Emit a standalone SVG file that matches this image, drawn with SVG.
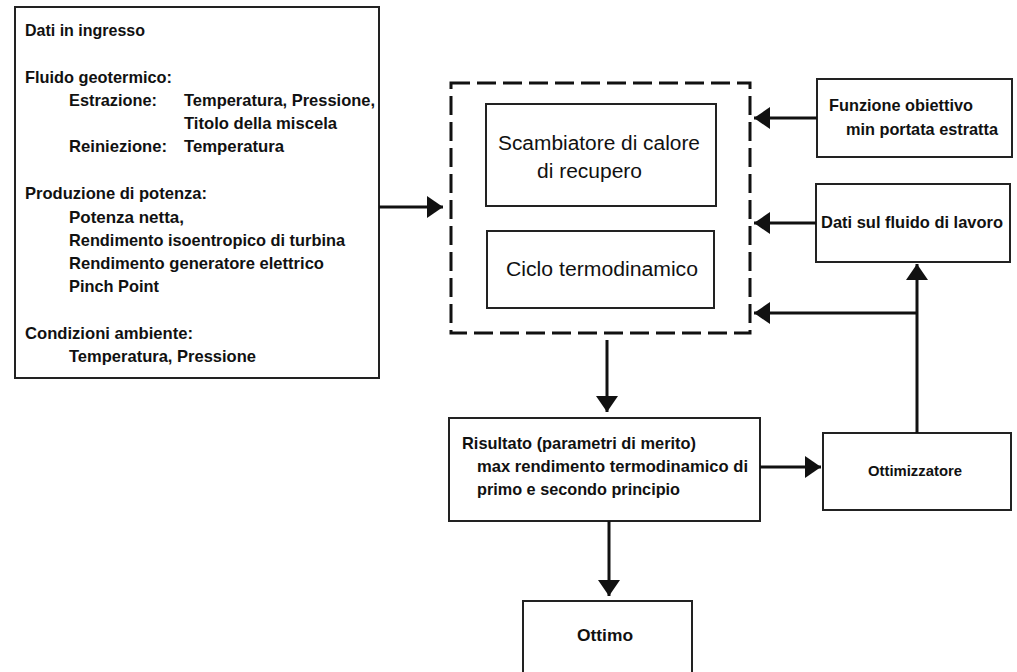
<svg xmlns="http://www.w3.org/2000/svg" width="1017" height="672" viewBox="0 0 1017 672">
<style>
.box{fill:#fff;stroke:#222;stroke-width:2}
.dash{fill:none;stroke:#111;stroke-width:3;stroke-dasharray:19 7}
.t{font-family:"Liberation Sans Narrow","Liberation Sans",Arial,sans-serif;font-weight:bold;font-size:17px;fill:#111}
.r{font-family:"Liberation Sans",Arial,sans-serif;font-size:20px;fill:#111}
.c{fill:none;stroke:#111;stroke-width:3}
</style>
<defs>
<marker id="ah" viewBox="0 0 16 22" refX="16" refY="11" markerWidth="16" markerHeight="22" markerUnits="userSpaceOnUse" orient="auto">
<path d="M0,0 L16,11 L0,22 Z" fill="#111"/>
</marker>
</defs>
<rect width="1017" height="672" fill="#fff"/>

<g id="input">
<rect class="box" x="15" y="7" width="364" height="371"/>
<text class="t" x="25" y="36" textLength="120" lengthAdjust="spacingAndGlyphs">Dati in ingresso</text>
<text class="t" x="25" y="83" textLength="147" lengthAdjust="spacingAndGlyphs">Fluido geotermico:</text>
<text class="t" x="69" y="106" textLength="88" lengthAdjust="spacingAndGlyphs">Estrazione:</text>
<text class="t" x="184" y="106" textLength="191" lengthAdjust="spacingAndGlyphs">Temperatura, Pressione,</text>
<text class="t" x="184" y="129" textLength="153" lengthAdjust="spacingAndGlyphs">Titolo della miscela</text>
<text class="t" x="69" y="152" textLength="98" lengthAdjust="spacingAndGlyphs">Reiniezione:</text>
<text class="t" x="184" y="152" textLength="100" lengthAdjust="spacingAndGlyphs">Temperatura</text>
<text class="t" x="25" y="199" textLength="182" lengthAdjust="spacingAndGlyphs">Produzione di potenza:</text>
<text class="t" x="69" y="223" textLength="115" lengthAdjust="spacingAndGlyphs">Potenza netta,</text>
<text class="t" x="69" y="246" textLength="276" lengthAdjust="spacingAndGlyphs">Rendimento isoentropico di turbina</text>
<text class="t" x="69" y="269" textLength="255" lengthAdjust="spacingAndGlyphs">Rendimento generatore elettrico</text>
<text class="t" x="69" y="292" textLength="90" lengthAdjust="spacingAndGlyphs">Pinch Point</text>
<text class="t" x="25" y="339" textLength="168" lengthAdjust="spacingAndGlyphs">Condizioni ambiente:</text>
<text class="t" x="69" y="362" textLength="187" lengthAdjust="spacingAndGlyphs">Temperatura, Pressione</text>
</g>

<g id="system">
<rect class="dash" x="451" y="83" width="299" height="250"/>
</g>
<g id="scambiatore">
<rect class="box" x="486" y="104" width="230" height="102"/>
<text class="r" x="498" y="150" textLength="202" lengthAdjust="spacingAndGlyphs">Scambiatore di calore</text>
<text class="r" x="537" y="178" textLength="105" lengthAdjust="spacingAndGlyphs">di recupero</text>
</g>
<g id="ciclo">
<rect class="box" x="487" y="231" width="227" height="77"/>
<text class="r" x="506" y="276" textLength="192" lengthAdjust="spacingAndGlyphs">Ciclo termodinamico</text>
</g>

<g id="funzione">
<rect class="box" x="817" y="79" width="195" height="78"/>
<text class="t" x="829" y="111" textLength="144" lengthAdjust="spacingAndGlyphs">Funzione obiettivo</text>
<text class="t" x="846" y="135" textLength="152" lengthAdjust="spacingAndGlyphs">min portata estratta</text>
</g>
<g id="fluido">
<rect class="box" x="816" y="184" width="194" height="78"/>
<text class="t" x="821" y="228" textLength="182" lengthAdjust="spacingAndGlyphs">Dati sul fluido di lavoro</text>
</g>

<g id="risultato">
<rect class="box" x="449" y="418" width="311" height="103"/>
<text class="t" x="462" y="449" textLength="234" lengthAdjust="spacingAndGlyphs">Risultato (parametri di merito)</text>
<text class="t" x="477" y="472" textLength="271" lengthAdjust="spacingAndGlyphs">max rendimento termodinamico di</text>
<text class="t" x="477" y="495" textLength="203" lengthAdjust="spacingAndGlyphs">primo e secondo principio</text>
</g>
<g id="ottimizzatore">
<rect class="box" x="823" y="433" width="188" height="77"/>
<text class="t" x="868" y="476" textLength="94" lengthAdjust="spacingAndGlyphs" style="font-size:15px">Ottimizzatore</text>
</g>
<g id="ottimo">
<rect class="box" x="523" y="601" width="169" height="80"/>
<text class="t" x="577" y="641" textLength="56" lengthAdjust="spacingAndGlyphs" style="font-family:'Liberation Sans',Arial,sans-serif;font-size:16px">Ottimo</text>
</g>

<g id="connectors">
<line class="c" x1="379" y1="207" x2="443" y2="207" marker-end="url(#ah)"/>
<line class="c" x1="817" y1="118" x2="754" y2="118" marker-end="url(#ah)"/>
<line class="c" x1="816" y1="223" x2="754" y2="223" marker-end="url(#ah)"/>
<line class="c" x1="917" y1="313" x2="754" y2="313" marker-end="url(#ah)"/>
<line class="c" x1="917" y1="433" x2="917" y2="264" marker-end="url(#ah)"/>
<line class="c" x1="607" y1="340" x2="607" y2="412" marker-end="url(#ah)"/>
<line class="c" x1="760" y1="467" x2="821" y2="467" marker-end="url(#ah)"/>
<line class="c" x1="609" y1="521" x2="609" y2="596" marker-end="url(#ah)"/>
</g>
</svg>
